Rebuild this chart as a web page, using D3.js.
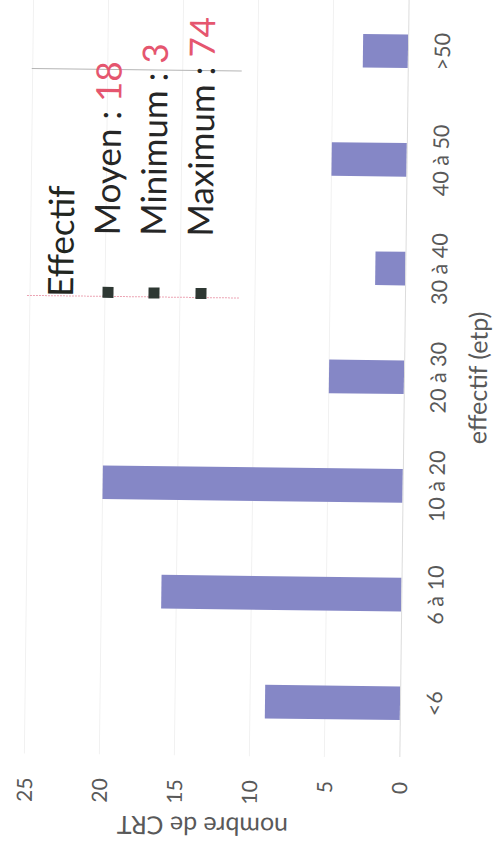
<!DOCTYPE html>
<html>
<head>
<meta charset="utf-8">
<script src="https://cdn.jsdelivr.net/npm/d3@7"></script>
<style>
  body { margin: 0; background: #fff; }
  text { font-family: Lato, "Open Sans", sans-serif; }
</style>
</head>
<body>
<div id="chart"></div>
<script>
// data
var categories = ["<6", "6 à 10", "10 à 20", "20 à 30", "30 à 40", "40 à 50", ">50"];
var counts = [9, 16, 20, 5, 2, 5, 3];
var valueTicks = [0, 5, 10, 15, 20, 25];
var legendTitle = "Effectif";
var legendLabels = ["Moyen : ", "Minimum : ", "Maximum : "];
var legendValues = ["18", "3", "74"];

// svg container
var svgWidth = 494;
var svgHeight = 849;

var svg = d3.select("#chart")
    .append("svg")
    .attr("width", svgWidth)
    .attr("height", svgHeight);

// the chart was scanned lying on its side (a bit less than a quarter turn)
var chartGroup = svg.append("g")
    .attr("transform", "translate(-3.75, 844.07) rotate(-89.3)");

// scales (in the chart's own upright frame)
var xScale = d3.scaleBand()
    .domain(categories)
    .range([91.4, 852.1])
    .paddingInner(0.69)
    .paddingOuter(0.345);

var yScale = d3.scaleLinear()
    .domain([0, 25])
    .range([402, 27]);

// faint gridlines
chartGroup.selectAll(".grid")
    .data(valueTicks.slice(1))
    .enter()
    .append("line")
    .attr("x1", 91)
    .attr("x2", 852)
    .attr("y1", d => yScale(d))
    .attr("y2", d => yScale(d))
    .attr("stroke", "#f1f1f1")
    .attr("stroke-width", 1);

// bars
chartGroup.selectAll(".bar")
    .data(counts)
    .enter()
    .append("rect")
    .attr("x", (d, i) => xScale(categories[i]))
    .attr("y", d => yScale(d))
    .attr("width", xScale.bandwidth())
    .attr("height", d => yScale(0) - yScale(d))
    .attr("fill", "#8587c6");

// category axis
var xAxis = d3.axisBottom(xScale).tickSize(0).tickPadding(0);
var xAxisGroup = chartGroup.append("g")
    .attr("transform", `translate(0, ${yScale(0)})`)
    .call(xAxis);
xAxisGroup.select(".domain")
    .attr("stroke", "#dcdcdc");
xAxisGroup.selectAll("text")
    .attr("y", 42)
    .attr("dy", 0)
    .attr("fill", "#595959")
    .style("font-size", "21.5px");

// value axis
var yAxis = d3.axisLeft(yScale).tickValues(valueTicks).tickSize(0).tickPadding(0);
var yAxisGroup = chartGroup.append("g")
    .attr("transform", "translate(67, 0)")
    .call(yAxis);
yAxisGroup.select(".domain").remove();
yAxisGroup.selectAll("text")
    .attr("fill", "#595959")
    .attr("dy", "0.36em")
    .style("font-size", "21px");

// axis titles
chartGroup.append("text")
    .attr("x", 472)
    .attr("y", 485)
    .attr("text-anchor", "middle")
    .attr("fill", "#595959")
    .style("font-size", "25px")
    .text("effectif (etp)");

chartGroup.append("text")
    .attr("transform", "translate(29.6, 206) rotate(-90)")
    .attr("text-anchor", "middle")
    .attr("fill", "#595959")
    .style("font-size", "25px")
    .text("nombre de CRT");

// pasted legend box
chartGroup.append("line")
    .attr("x1", 549).attr("x2", 549)
    .attr("y1", 24).attr("y2", 236)
    .attr("stroke", "#eba3b3")
    .attr("stroke-width", 1)
    .attr("stroke-dasharray", "2,1");

chartGroup.append("line")
    .attr("x1", 776).attr("x2", 776)
    .attr("y1", 26).attr("y2", 236)
    .attr("stroke", "#b5b5b5")
    .attr("stroke-width", 1);

chartGroup.append("text")
    .attr("x", 548)
    .attr("y", 70)
    .attr("fill", "#22261f")
    .style("font-size", "35px")
    .text(legendTitle);

var rowY = [105, 151, 198];

chartGroup.selectAll(".marker")
    .data(legendLabels)
    .enter()
    .append("rect")
    .attr("x", 547.5)
    .attr("y", (d, i) => rowY[i] - 5.5)
    .attr("width", 11)
    .attr("height", 11)
    .attr("fill", "#2e3833");

var rows = chartGroup.selectAll(".legendRow")
    .data(legendLabels)
    .enter()
    .append("text")
    .attr("x", 610)
    .attr("y", (d, i) => rowY[i] + 11)
    .attr("fill", "#262626")
    .style("font-size", "35px");

rows.append("tspan")
    .text(d => d);

rows.append("tspan")
    .attr("fill", "#e5566f")
    .text((d, i) => legendValues[i]);
</script>
</body>
</html>
